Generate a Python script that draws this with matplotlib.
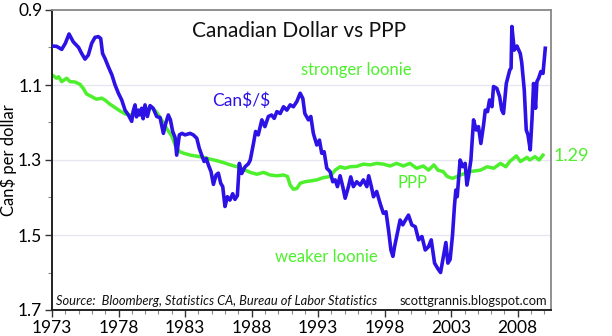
import matplotlib
matplotlib.use("Agg")
import matplotlib.pyplot as plt
from matplotlib.ticker import MultipleLocator, FixedLocator

# ---- data ----
cad_years = [1973.0, 1973.35, 1973.73, 1974.0, 1974.28, 1974.6, 1975.0, 1975.23, 1975.48, 1975.73,
             1975.98, 1976.23, 1976.48, 1976.66, 1976.8, 1976.98, 1977.23, 1977.5, 1977.74, 1977.99,
             1978.24, 1978.49, 1978.74, 1978.99, 1979.1, 1979.24, 1979.35, 1979.49, 1979.6, 1979.74,
             1979.85, 1979.99, 1980.17, 1980.37, 1980.6, 1980.87, 1981.12, 1981.37, 1981.55, 1981.74,
             1981.9, 1982.07, 1982.25, 1982.37, 1982.57, 1982.77, 1983.0, 1983.38, 1983.62, 1983.88,
             1984.07, 1984.25, 1984.43, 1984.6, 1984.75, 1984.95, 1985.13, 1985.33, 1985.5, 1985.68,
             1985.83, 1986.0, 1986.18, 1986.37, 1986.58, 1986.75, 1986.93, 1987.08, 1987.26, 1987.51,
             1987.76, 1987.9, 1988.14, 1988.3, 1988.5, 1988.77, 1989.0, 1989.26, 1989.5, 1989.7,
             1989.9, 1990.15, 1990.4, 1990.65, 1990.9, 1991.14, 1991.4, 1991.65, 1991.85, 1992.0,
             1992.27, 1992.45, 1992.64, 1992.9, 1993.1, 1993.27, 1993.45, 1993.65, 1993.9, 1994.1,
             1994.28, 1994.45, 1994.65, 1994.85, 1995.03, 1995.28, 1995.45, 1995.65, 1995.9, 1996.16,
             1996.4, 1996.66, 1996.8, 1997.0, 1997.16, 1997.4, 1997.66, 1997.9, 1998.1, 1998.29,
             1998.47, 1998.62, 1998.75, 1998.9, 1999.16, 1999.36, 1999.5, 1999.79, 2000.04, 2000.3,
             2000.55, 2000.8, 2001.05, 2001.3, 2001.5, 2001.75, 2002.0, 2002.2, 2002.45, 2002.6,
             2002.75, 2002.92, 2003.1, 2003.25, 2003.35, 2003.45, 2003.55, 2003.67, 2003.87, 2004.05,
             2004.18, 2004.3, 2004.48, 2004.68, 2004.88, 2005.05, 2005.23, 2005.43, 2005.56, 2005.73,
             2005.88, 2006.06, 2006.18, 2006.43, 2006.64, 2006.8, 2006.93, 2007.14, 2007.4, 2007.5,
             2007.56, 2007.74, 2007.94, 2008.19, 2008.3, 2008.49, 2008.64, 2008.77, 2008.94, 2009.07,
             2009.19, 2009.34, 2009.44, 2009.57, 2009.74, 2009.9, 2010.07]
cad_per_usd = [0.996, 0.997, 1.005, 0.989, 0.964, 0.985, 1.0, 1.016, 1.031, 1.02,
               0.989, 0.973, 0.971, 0.976, 1.016, 1.029, 1.051, 1.073, 1.1, 1.122,
               1.14, 1.167, 1.18, 1.197, 1.17, 1.153, 1.185, 1.167, 1.18, 1.162,
               1.19, 1.153, 1.184, 1.155, 1.162, 1.184, 1.187, 1.229, 1.202, 1.18,
               1.193, 1.224, 1.24, 1.287, 1.233, 1.229, 1.233, 1.229, 1.233, 1.242,
               1.269, 1.287, 1.304, 1.296, 1.313, 1.331, 1.365, 1.34, 1.335, 1.362,
               1.371, 1.424, 1.398, 1.407, 1.39, 1.405, 1.395, 1.309, 1.336, 1.318,
               1.31, 1.3, 1.256, 1.224, 1.233, 1.193, 1.211, 1.184, 1.18, 1.189,
               1.171, 1.176, 1.158, 1.167, 1.153, 1.158, 1.144, 1.122, 1.136, 1.176,
               1.193, 1.184, 1.229, 1.26, 1.247, 1.282, 1.278, 1.322, 1.331, 1.358,
               1.353, 1.371, 1.342, 1.371, 1.402, 1.371, 1.345, 1.371, 1.358, 1.367,
               1.353, 1.371, 1.342, 1.371, 1.398, 1.384, 1.416, 1.442, 1.438, 1.487,
               1.54, 1.557, 1.53, 1.504, 1.46, 1.473, 1.464, 1.447, 1.473, 1.478,
               1.513, 1.504, 1.54, 1.531, 1.513, 1.575, 1.59, 1.6, 1.55, 1.52,
               1.575, 1.565, 1.5, 1.42, 1.38, 1.398, 1.353, 1.3, 1.318, 1.309,
               1.367, 1.344, 1.3, 1.193, 1.22, 1.211, 1.256, 1.207, 1.167, 1.171,
               1.14, 1.158, 1.104, 1.109, 1.131, 1.167, 1.176, 1.096, 1.06, 1.055,
               0.944, 1.007, 0.996, 1.016, 1.04, 1.113, 1.22, 1.233, 1.273, 1.193,
               1.096, 1.162, 1.091, 1.082, 1.064, 1.069, 1.002]

ppp_years = [1973.0, 1973.35, 1973.5, 1973.73, 1974.1, 1974.35, 1974.72, 1975.1, 1975.35, 1975.6,
             1975.98, 1976.35, 1976.72, 1976.98, 1977.35, 1977.73, 1978.1, 1978.49, 1978.87, 1979.24,
             1979.6, 1980.1, 1980.45, 1980.8, 1981.1, 1981.6, 1982.0, 1982.3, 1982.6, 1982.9,
             1983.4, 1983.9, 1984.4, 1984.9, 1985.4, 1985.9, 1986.4, 1986.9, 1987.4, 1987.9,
             1988.4, 1988.9, 1989.4, 1989.9, 1990.4, 1990.7, 1990.9, 1991.14, 1991.4, 1991.65,
             1992.0, 1992.4, 1992.9, 1993.4, 1993.9, 1994.28, 1994.65, 1995.0, 1995.4, 1995.9,
             1996.4, 1996.9, 1997.4, 1997.9, 1998.4, 1998.9, 1999.4, 1999.9, 2000.4, 2000.9,
             2001.3, 2001.7, 2002.0, 2002.4, 2002.7, 2003.1, 2003.7, 2004.4, 2005.2, 2005.7,
             2006.2, 2006.7, 2007.1, 2007.4, 2007.9, 2008.2, 2008.7, 2008.9, 2009.3, 2009.6,
             2009.9]
ppp_values = [1.073, 1.082, 1.078, 1.091, 1.082, 1.091, 1.092, 1.098, 1.109, 1.124,
              1.131, 1.138, 1.135, 1.14, 1.151, 1.16, 1.169, 1.177, 1.18, 1.177,
              1.171, 1.165, 1.16, 1.17, 1.185, 1.215, 1.236, 1.264, 1.278, 1.282,
              1.287, 1.29, 1.293, 1.298, 1.302, 1.307, 1.313, 1.318, 1.325, 1.333,
              1.338, 1.333, 1.34, 1.342, 1.34, 1.344, 1.367, 1.378, 1.376, 1.362,
              1.358, 1.356, 1.353, 1.347, 1.344, 1.327, 1.318, 1.322, 1.318, 1.317,
              1.311, 1.313, 1.309, 1.311, 1.316, 1.309, 1.316, 1.309, 1.322, 1.316,
              1.327, 1.313, 1.327, 1.331, 1.344, 1.349, 1.34, 1.331, 1.327, 1.318,
              1.322, 1.309, 1.318, 1.304, 1.289, 1.304, 1.293, 1.3, 1.291, 1.3,
              1.287]

x_ticks = [1973, 1978, 1983, 1988, 1993, 1998, 2003, 2008]
y_ticks = [0.9, 1.1, 1.3, 1.5, 1.7]
y_tick_labels = ["0.9", "1.1", "1.3", "1.5", "1.7"]

BLUE = "#2d12e6"
GREEN = "#4ef02e"
FONT = "Lato"

plt.rcParams["font.family"] = [FONT, "DejaVu Sans"]

fig = plt.figure(figsize=(6.12, 3.36), dpi=100)
ax = fig.add_axes([52 / 612, 26 / 336, 499 / 612, 300 / 336])

for yv in [1.1, 1.3, 1.5]:
    ax.axhline(yv, color="#e6e6f2", lw=0.9, zorder=0)

ax.plot(ppp_years, ppp_values, color=GREEN, lw=2.5, zorder=2, solid_joinstyle="round")
ax.plot(cad_years, cad_per_usd, color=BLUE, lw=2.6, zorder=3, solid_joinstyle="round")

ax.set_xlim(1973, 2010.5)
ax.set_ylim(1.7, 0.9)
ax.xaxis.set_major_locator(FixedLocator(x_ticks))
ax.xaxis.set_minor_locator(MultipleLocator(1))
ax.set_xticklabels([str(v) for v in x_ticks])
ax.yaxis.set_major_locator(FixedLocator(y_ticks))
ax.yaxis.set_minor_locator(FixedLocator([1.0, 1.2, 1.4, 1.6]))
ax.set_yticklabels(y_tick_labels)

ax.tick_params(axis="both", which="major", labelsize=12.5, length=5, width=1, color="#333333", direction="out")
ax.tick_params(axis="both", which="minor", length=3, width=0.8, color="#888888", direction="out")
ax.tick_params(axis="x", pad=2)
ax.tick_params(axis="y", pad=2)

for s in ["left", "bottom"]:
    ax.spines[s].set_color("#222222")
    ax.spines[s].set_linewidth(1.4)
for s in ["top", "right"]:
    ax.spines[s].set_color("#888888")
    ax.spines[s].set_linewidth(1.3)

ax.set_ylabel(r"Can\$ per dollar", fontsize=12, labelpad=1)

ax.text(1991.6, 0.955, "Canadian Dollar vs PPP", fontsize=15, ha="center", va="center", color="#111111")
ax.text(1995.9, 1.06, "stronger loonie", fontsize=12, ha="center", va="center", color=GREEN)
ax.text(1985.0, 1.143, r"Can\$/\$", fontsize=12.5, ha="left", va="center", color=BLUE)
ax.text(2000.1, 1.36, "PPP", fontsize=12, ha="center", va="center", color=GREEN)
ax.text(1993.6, 1.56, "weaker loonie", fontsize=12, ha="center", va="center", color=GREEN)
ax.text(1973.3, 1.677, "Source:  Bloomberg, Statistics CA, Bureau of Labor Statistics",
        fontsize=9.3, style="italic", ha="left", va="center", color="#111111")
ax.text(2010.2, 1.677, "scottgrannis.blogspot.com", fontsize=9.3, ha="right", va="center", color="#111111")
ax.text(1.005, 1.29, "1.29", transform=ax.get_yaxis_transform(), fontsize=13,
        ha="left", va="center", color=GREEN, clip_on=False)

fig.savefig("out.png", dpi=100)
